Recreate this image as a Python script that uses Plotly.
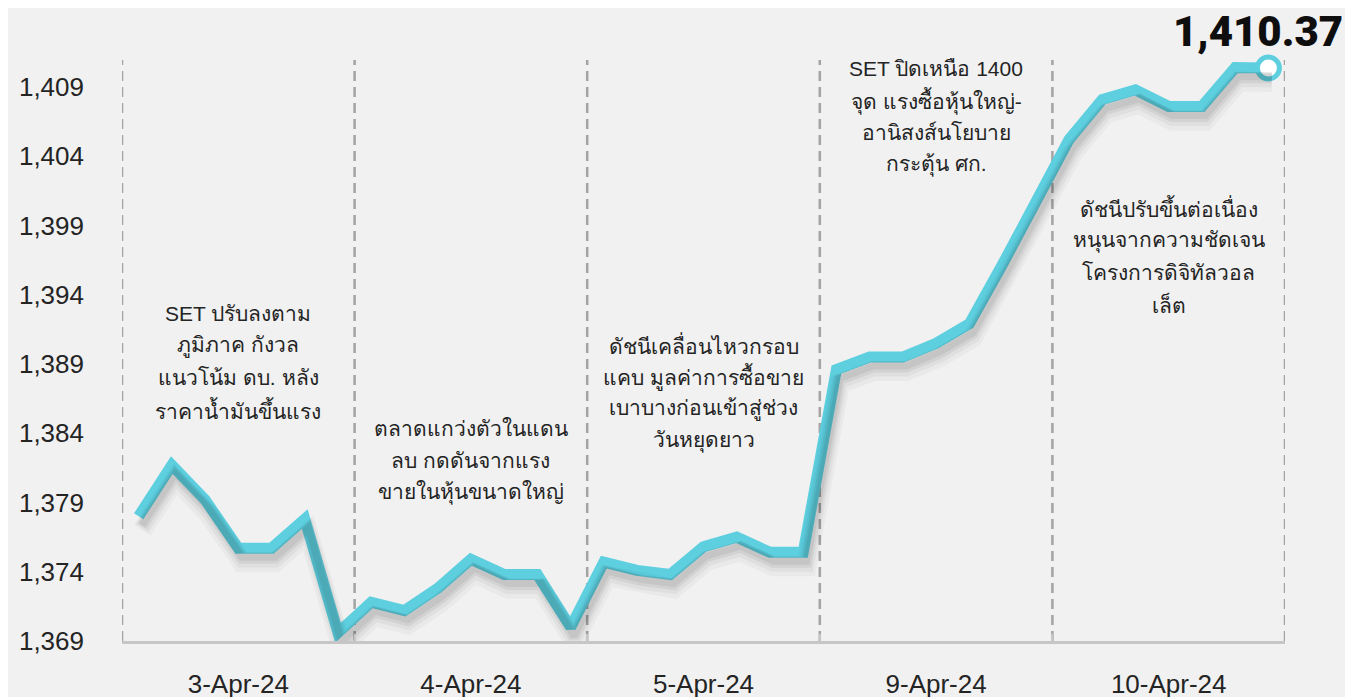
import plotly.graph_objects as go

days = ["3-Apr-24", "4-Apr-24", "5-Apr-24", "9-Apr-24", "10-Apr-24"]
day1 = [1378.0, 1381.7, 1379.2, 1375.7, 1375.7, 1377.8, 1369.6]
day2 = [1371.8, 1371.2, 1372.8, 1374.9, 1373.8, 1373.8, 1370.0]
day3 = [1374.7, 1374.1, 1373.8, 1375.8, 1376.5, 1375.4, 1375.4]
day4 = [1388.6, 1389.5, 1389.5, 1390.5, 1391.9, 1396.2, 1400.8]
day5 = [1405.2, 1408.1, 1408.8, 1407.6, 1407.6, 1410.4, 1410.37]
notes = [
    ["SET ปรับลงตาม", "ภูมิภาค กังวล", "แนวโน้ม ดบ. หลัง", "ราคาน้ำมันขึ้นแรง"],
    ["ตลาดแกว่งตัวในแดน", "ลบ กดดันจากแรง", "ขายในหุ้นขนาดใหญ่"],
    ["ดัชนีเคลื่อนไหวกรอบ", "แคบ มูลค่าการซื้อขาย", "เบาบางก่อนเข้าสู่ช่วง", "วันหยุดยาว"],
    ["SET ปิดเหนือ 1400", "จุด แรงซื้อหุ้นใหญ่-", "อานิสงส์นโยบาย", "กระตุ้น ศก."],
    ["ดัชนีปรับขึ้นต่อเนื่อง", "หนุนจากความชัดเจน", "โครงการดิจิทัลวอล", "เล็ต"],
]
note_first_line = [0.563, 0.365, 0.510, 0.985, 0.745]
ytick_vals = [1369, 1374, 1379, 1384, 1389, 1394, 1399, 1404, 1409]

per_day = [day1, day2, day3, day4, day5]
values = [v for d in per_day for v in d]
n_per = len(day1)
xs = list(range(len(values)))
centers = [i * n_per + (n_per - 1) / 2 for i in range(len(days))]
bounds = [i * n_per - 0.5 for i in range(len(days) + 1)]

ylo, yhi = 1369, 1410.95
xlo, xhi = -0.5, len(values) - 0.5
px_per_y = 581 / (yhi - ylo)
px_per_x = 1163 / (xhi - xlo)

LINE = "#5DCFDF"
BG = "#F1F1F1"
FONT = "Liberation Sans, Arial, sans-serif"
TXT = "#242424"

shadows = [(14, 4, 20, 0.03), (12, 4, 15, 0.04), (10, 3, 11, 0.055), (9, 3, 7, 0.06)]

fig = go.Figure()
layout_extra = {}
sx = 3.5 / px_per_x
layout_extra["xaxis3"] = dict(range=[xlo - sx, xhi - sx], overlaying="x", visible=False)
for k, (dy, dx, w, a) in enumerate(shadows):
    sy = dy / px_per_y
    axn = k + 2
    layout_extra[f"yaxis{axn}"] = dict(range=[ylo + sy, yhi + sy], overlaying="y", visible=False)
    fig.add_trace(go.Scatter(x=xs, y=values, mode="lines",
                             line=dict(color=f"rgba(0,0,0,{a})", width=w),
                             xaxis="x3", yaxis=f"y{axn}",
                             hoverinfo="skip", showlegend=False))

fig.add_trace(go.Scatter(x=xs, y=values, mode="lines",
                         line=dict(color=LINE, width=11),
                         showlegend=False, hoverinfo="skip"))
fig.add_trace(go.Scatter(x=[xs[-1]], y=[values[-1]], mode="markers",
                         marker=dict(size=22, color="white", line=dict(color=LINE, width=5)),
                         cliponaxis=False, showlegend=False, hoverinfo="skip"))
fig.add_trace(go.Scatter(x=[xlo], y=[ylo], xaxis="x2", mode="markers",
                         marker=dict(opacity=0), showlegend=False, hoverinfo="skip"))

# page body has an 8px margin: compensate so the plot area sits at x 122-1285, y 60-641
fig.update_layout(
    width=1353, height=697,
    margin=dict(l=114, r=76, t=52, b=64),
    paper_bgcolor=BG, plot_bgcolor=BG,
    font=dict(family=FONT, color=TXT),
    xaxis=dict(range=[xlo, xhi], tickvals=centers, ticktext=days, automargin=False,
               showgrid=False, zeroline=False, showline=True, linecolor="#C6C6C6", linewidth=3,
               ticks="", ticklabelstandoff=18,
               tickfont=dict(family=FONT, size=26, color=TXT)),
    xaxis2=dict(range=[xlo, xhi], overlaying="x", tickvals=bounds, showticklabels=False,
                showgrid=False, ticks="inside", ticklen=7, tickcolor="#C6C6C6", tickwidth=2,
                zeroline=False, automargin=False),
    yaxis=dict(range=[ylo, yhi], tickvals=ytick_vals, tickformat=",d", automargin=False,
               showgrid=False, zeroline=False, showline=False, ticks="",
               ticklabelstandoff=37, tickfont=dict(family=FONT, size=26, color=TXT)),
    **layout_extra,
)

for b in bounds:
    fig.add_shape(type="line", xref="x", yref="paper", x0=b, x1=b, y0=0, y1=1,
                  line=dict(color="#A4A4A4", width=2.5, dash="10px,6px"), layer="below")

for c, lines, top in zip(centers, notes, note_first_line):
    for i, t in enumerate(lines):
        fig.add_annotation(x=c, xref="x", y=top, yref="paper", yanchor="middle", text=t,
                           yshift=-32 * i, showarrow=False,
                           font=dict(size=21, color=TXT, family=FONT), align="center")

fig.add_annotation(x=xs[-1], y=values[-1], text=f"{values[-1]:,.2f}", showarrow=False,
                   yanchor="bottom", yshift=10, xshift=-10,
                   font=dict(size=42, color="#0E0E0E", family="Roboto, Inter, sans-serif", weight=900))

fig.write_html("out.html")
